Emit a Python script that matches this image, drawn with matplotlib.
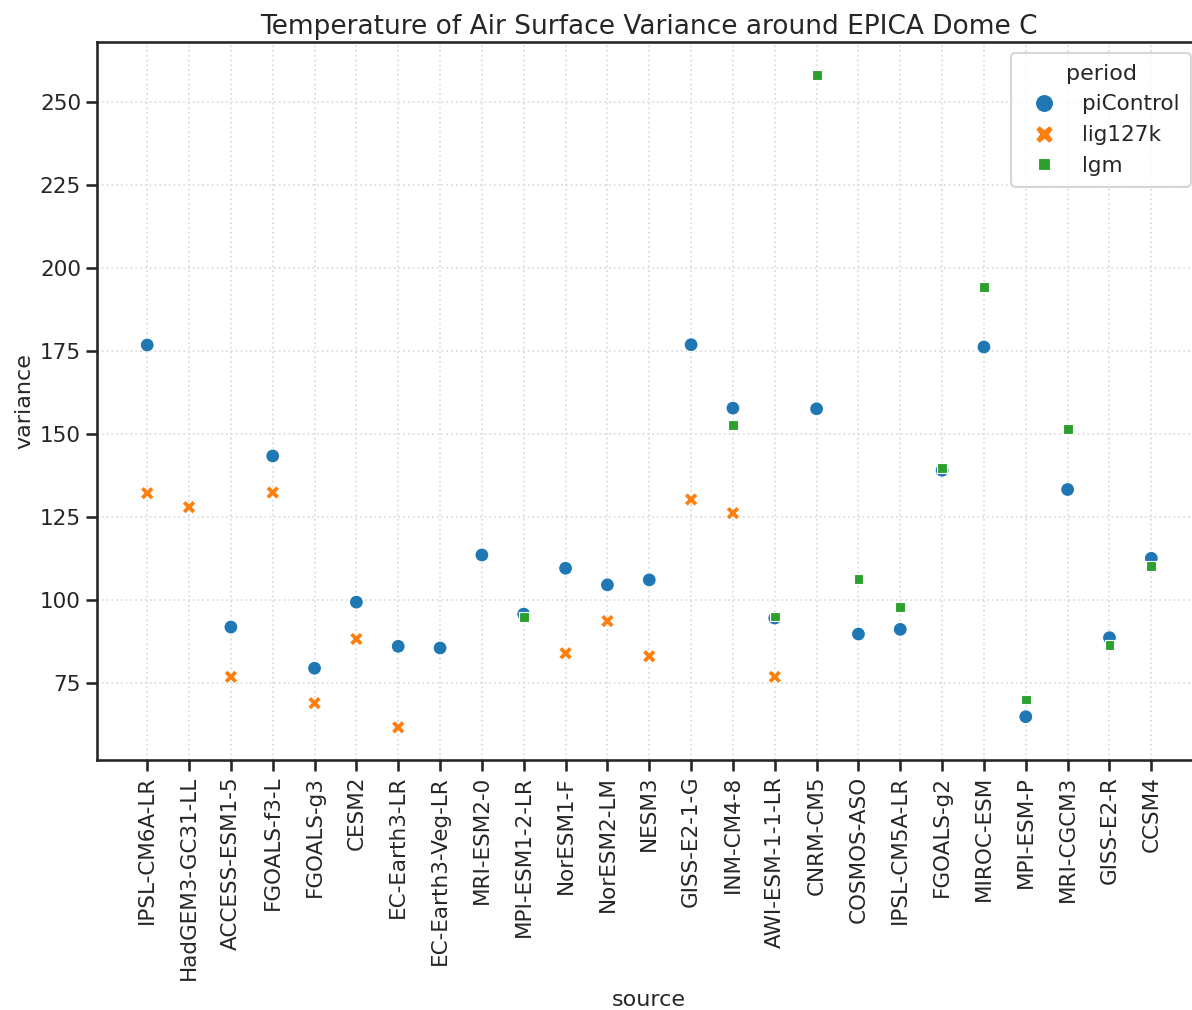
import numpy as np
import pandas as pd
import seaborn as sns
from matplotlib import pyplot as plt

sources = ['IPSL-CM6A-LR', 'HadGEM3-GC31-LL', 'ACCESS-ESM1-5', 'FGOALS-f3-L', 'FGOALS-g3',
           'CESM2', 'EC-Earth3-LR', 'EC-Earth3-Veg-LR', 'MRI-ESM2-0', 'MPI-ESM1-2-LR',
           'NorESM1-F', 'NorESM2-LM', 'NESM3', 'GISS-E2-1-G', 'INM-CM4-8',
           'AWI-ESM-1-1-LR', 'CNRM-CM5', 'COSMOS-ASO', 'IPSL-CM5A-LR', 'FGOALS-g2',
           'MIROC-ESM', 'MPI-ESM-P', 'MRI-CGCM3', 'GISS-E2-R', 'CCSM4']

pi_control = [176.8, None, 91.9, 143.4, 79.5,
              99.4, 86.1, 85.6, 113.6, 95.8,
              109.6, 104.6, 106.1, 176.9, 157.8,
              94.6, 157.6, 89.8, 91.2, 139.1,
              176.2, 64.9, 133.3, 88.7, 112.6]

lig127k = [132.2, 128.0, 76.9, 132.4, 69.0,
           88.3, 61.7, None, None, None,
           84.0, 93.7, 83.1, 130.3, 126.2,
           76.9, None, None, None, None,
           None, None, None, None, None]

lgm = [None, None, None, None, None,
       None, None, None, None, 94.9,
       None, None, None, None, 152.8,
       95.1, 258.2, 106.3, 97.9, 139.7,
       194.2, 70.1, 151.6, 86.6, 110.3]

periods = ['piControl', 'lig127k', 'lgm']

rows = []
for i, src in enumerate(sources):
    for period, vals in zip(periods, [pi_control, lig127k, lgm]):
        if vals[i] is not None:
            rows.append({'source': src, 'period': period, 'variance': vals[i]})
df = pd.DataFrame(rows)

sns.set_theme(context='talk', style='ticks')
plt.rcParams.update({
    'xtick.labelsize': 15.5,
    'ytick.labelsize': 15.5,
    'axes.labelsize': 16,
    'axes.titlesize': 19,
    'legend.fontsize': 15.5,
    'legend.title_fontsize': 16,
    'xtick.major.size': 8,
    'ytick.major.size': 8,
})

fig = plt.figure(figsize=(11.92, 10.10), dpi=100)
ax = fig.add_axes([97 / 1192, 250 / 1010, 1104.5 / 1192, 718 / 1010])

sns.scatterplot(data=df, x='source', y='variance', hue='period', style='period',
                hue_order=periods, style_order=periods, palette='tab10',
                s=100, ax=ax)

ax.grid(True, linestyle=':', color='#dddddd', linewidth=1.3)
ax.set_axisbelow(True)
ax.tick_params(axis='x', rotation=90)
ax.set_xlabel('source', labelpad=7)
ax.set_title('Temperature of Air Surface Variance around EPICA Dome C')
ax.legend(title='period', loc='upper right', markerscale=1.3, borderpad=0.5)

fig.savefig('out.png', dpi=100)
